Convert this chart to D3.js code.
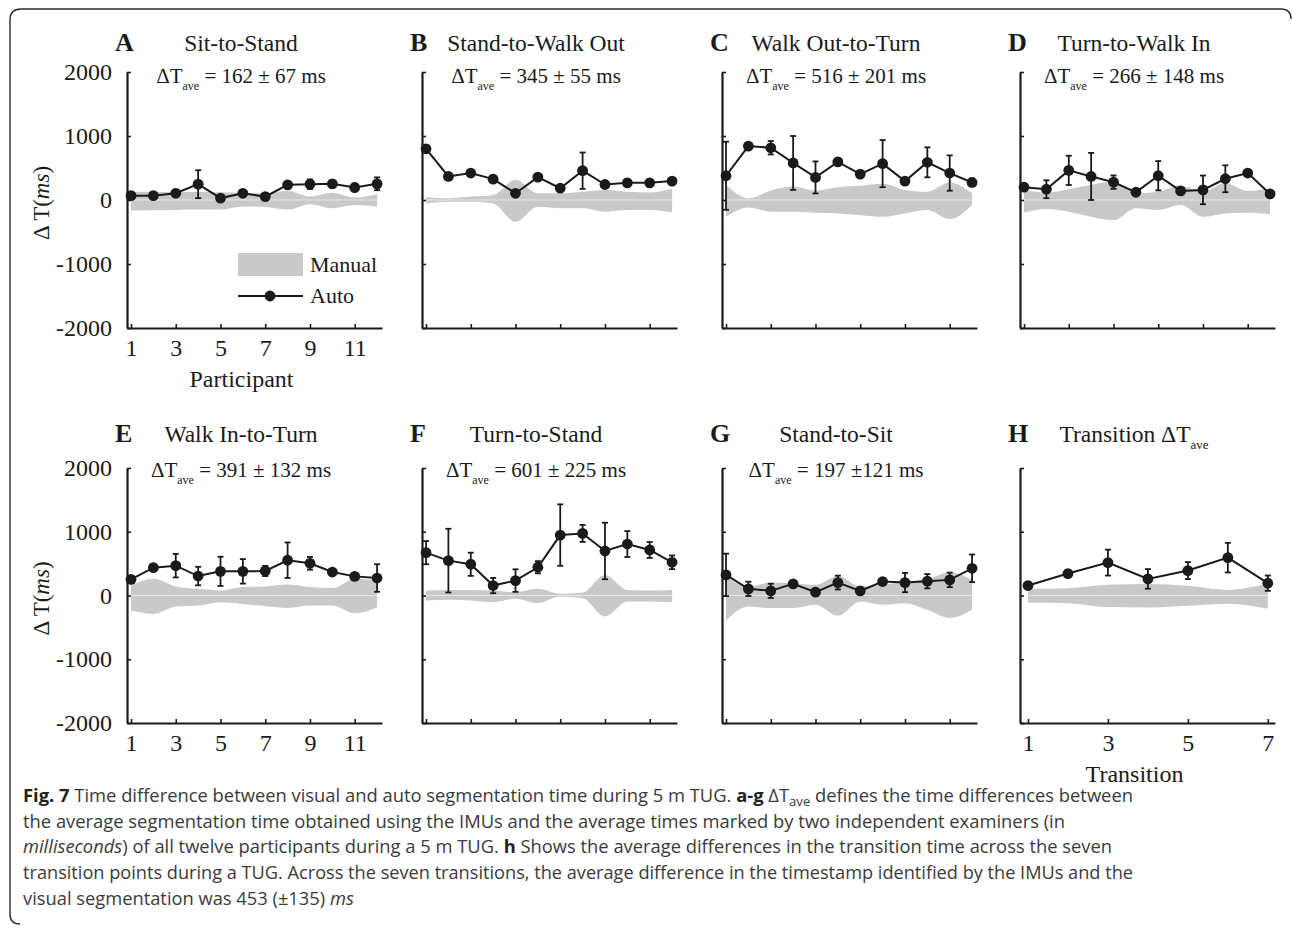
<!DOCTYPE html>
<html>
<head>
<meta charset="utf-8">
<script src="https://cdnjs.cloudflare.com/ajax/libs/d3/7.8.5/d3.min.js"></script>
<style>
  body { margin: 0; background: #fff; }
  .serif { font-family: "Liberation Serif", "Times New Roman", serif; }
  .caption { font-family: "Open Sans", "Noto Sans", sans-serif; fill: #3a3a3a; }
</style>
</head>
<body>
<div id="chart"></div>
<script>
// x categories
var participants = [1, 2, 3, 4, 5, 6, 7, 8, 9, 10, 11, 12];
var transitions = [1, 2, 3, 4, 5, 6, 7];

// Auto segmentation: mean difference (ms) and error bar half-length
var autoA = [68, 68, 105, 247, 30, 105, 53, 237, 247, 253, 195, 253];
var errA = [30, 25, 55, 218, 20, 30, 20, 40, 75, 45, 60, 100];
var autoB = [800, 368, 421, 326, 105, 358, 184, 458, 242, 268, 268, 295];
var errB = [20, 20, 25, 20, 25, 20, 20, 284, 20, 20, 20, 20];
var autoC = [379, 842, 816, 579, 353, 595, 405, 568, 295, 589, 421, 274];
var errC = [532, 25, 105, 421, 250, 20, 20, 368, 20, 234, 276, 60];
var autoD = [200, 168, 463, 368, 279, 121, 379, 142, 158, 332, 421, 95];
var errD = [25, 140, 229, 368, 105, 20, 229, 30, 224, 210, 20, 40];
var autoE = [253, 437, 468, 305, 379, 379, 384, 553, 505, 368, 300, 274];
var errE = [25, 25, 184, 145, 229, 192, 80, 279, 100, 25, 25, 216];
var autoF = [672, 547, 490, 156, 234, 443, 948, 974, 698, 807, 714, 521];
var errF = [182, 500, 182, 120, 177, 96, 482, 133, 443, 203, 125, 107];
var autoG = [323, 104, 73, 182, 52, 203, 73, 219, 203, 224, 245, 427];
var errG = [333, 112, 112, 30, 20, 109, 20, 30, 151, 112, 114, 216];
var autoH = [156, 344, 516, 260, 391, 594, 193];
var errH = [30, 30, 203, 154, 133, 232, 120];

// Manual segmentation band: upper and lower limits (ms)
var manualUpA = [130, 130, 125, 125, 120, 115, 105, 140, 55, 115, 40, 90];
var manualLoA = [-165, -160, -155, -150, -150, -100, -110, -150, -65, -130, -80, -105];
var manualUpB = [42, 26, 53, 79, 316, 105, 105, 130, 158, 130, 116, 174];
var manualLoB = [-53, -26, -26, -53, -342, -105, -130, -130, -184, -158, -158, -195];
var manualUpC = [237, 26, 147, 210, 147, 200, 221, 253, 158, 130, 274, 105];
var manualLoC = [-263, -116, -184, -184, -200, -210, -237, -263, -210, -158, -300, -79];
var manualUpD = [147, 116, 168, 237, 289, 105, 130, 221, 130, 263, 142, 184];
var manualLoD = [-200, -142, -184, -263, -316, -130, -158, -79, -263, -210, -200, -221];
var manualUpE = [158, 263, 142, 105, 79, 132, 142, 174, 132, 116, 263, 237];
var manualLoE = [-237, -290, -174, -158, -105, -132, -168, -195, -158, -158, -279, -184];
var manualUpF = [73, 88, 88, 78, 52, 104, 26, 47, 323, 88, 78, 88];
var manualLoF = [-78, -68, -78, -104, -52, -120, -16, -42, -328, -94, -94, -104];
var manualUpG = [297, 140, 203, 193, 167, 307, 140, 167, 219, 255, 365, 245];
var manualLoG = [-390, -172, -198, -198, -146, -318, -94, -146, -120, -224, -354, -224];
var manualUpH = [104, 115, 167, 182, 151, 88, 193];
var manualLoH = [-109, -120, -182, -188, -161, -130, -208];

// tick labels and texts
var yTicks = [-2000, -1000, 0, 1000, 2000];
var xTicksParticipant = [1, 3, 5, 7, 9, 11];
var xTicksTransition = [1, 3, 5, 7];
var letters = ["A", "B", "C", "D", "E", "F", "G", "H"];
var titles = ["Sit-to-Stand", "Stand-to-Walk Out", "Walk Out-to-Turn", "Turn-to-Walk In",
              "Walk In-to-Turn", "Turn-to-Stand", "Stand-to-Sit", "Transition \u0394T"];
var stats = [" = 162 \u00b1 67 ms", " = 345 \u00b1 55 ms", " = 516 \u00b1 201 ms", " = 266 \u00b1 148 ms",
             " = 391 \u00b1 132 ms", " = 601 \u00b1 225 ms", " = 197 \u00b1121 ms", null];

var panels = [
  { x: participants, auto: autoA, err: errA, up: manualUpA, lo: manualLoA },
  { x: participants, auto: autoB, err: errB, up: manualUpB, lo: manualLoB },
  { x: participants, auto: autoC, err: errC, up: manualUpC, lo: manualLoC },
  { x: participants, auto: autoD, err: errD, up: manualUpD, lo: manualLoD },
  { x: participants, auto: autoE, err: errE, up: manualUpE, lo: manualLoE },
  { x: participants, auto: autoF, err: errF, up: manualUpF, lo: manualLoF },
  { x: participants, auto: autoG, err: errG, up: manualUpG, lo: manualLoG },
  { x: transitions, auto: autoH, err: errH, up: manualUpH, lo: manualLoH }
];

var ink = "#1a1a1a";
var bandGrey = "#c9c9c9";

var svg = d3.select("#chart")
  .append("svg")
  .attr("width", 1292)
  .attr("height", 932)
  .style("background", "#fff");

// layout of the 2 x 4 grid
var colX = [127, 422, 722, 1020];
var rows = [
  { top: 72, bottom: 328, titleY: 51, statY: 83 },
  { top: 468, bottom: 723, titleY: 442, statY: 477 }
];
var plotW = 255;

panels.forEach(function(p, k) {
  var row = rows[Math.floor(k / 4)];
  var col = k % 4;
  var h = row.bottom - row.top;
  var isTransition = k === 7;
  var firstCol = col === 0;

  var g = svg.append("g")
    .attr("class", "serif")
    .attr("transform", "translate(" + colX[col] + "," + row.top + ")");

  var x = d3.scaleLinear()
    .domain(isTransition ? [0.8, 7.18] : [0.82, 12.22])
    .range([0, plotW]);
  var y = d3.scaleLinear().domain([-2000, 2000]).range([h, 0]);

  var pts = p.x.map(function(t, i) {
    return { t: t, v: p.auto[i], e: p.err[i], up: p.up[i], lo: p.lo[i] };
  });

  // manual band
  var area = d3.area()
    .x(function(d) { return x(d.t); })
    .y0(function(d) { return y(d.lo); })
    .y1(function(d) { return y(d.up); })
    .curve(d3.curveMonotoneX);
  g.append("path").datum(pts).attr("d", area).attr("fill", bandGrey);
  g.append("line")
    .attr("x1", x(p.x[0])).attr("x2", x(p.x[p.x.length - 1]))
    .attr("y1", y(0)).attr("y2", y(0))
    .attr("stroke", "#e6e6e6").attr("stroke-width", 1);

  // axes
  var leftAxis = d3.axisLeft(y)
    .tickValues(yTicks)
    .tickSizeInner(-4)
    .tickSizeOuter(0)
    .tickPadding(15)
    .tickFormat(function(d) { return firstCol ? String(d) : ""; });
  var bottomAxis = d3.axisBottom(x)
    .tickValues(isTransition ? xTicksTransition : xTicksParticipant)
    .tickSizeInner(-4)
    .tickSizeOuter(0)
    .tickPadding(11)
    .tickFormat(function(d) { return (k === 0 || k === 4 || isTransition) ? String(d) : ""; });

  [g.append("g").call(leftAxis),
   g.append("g").attr("transform", "translate(0," + h + ")").call(bottomAxis)]
    .forEach(function(ax) {
      ax.attr("font-family", null).attr("font-size", null);
      ax.select(".domain").attr("stroke", ink).attr("stroke-width", 2.2);
      ax.selectAll(".tick line").attr("stroke", ink).attr("stroke-width", 1.6);
      ax.selectAll(".tick text").attr("fill", ink).attr("font-size", 24);
    });

  // error bars
  var bars = g.append("g").selectAll("g").data(pts).enter().append("g")
    .attr("stroke", ink).attr("stroke-width", 1.8);
  bars.append("line")
    .attr("x1", function(d) { return x(d.t); }).attr("x2", function(d) { return x(d.t); })
    .attr("y1", function(d) { return y(d.v - d.e); }).attr("y2", function(d) { return y(d.v + d.e); });
  [-1, 1].forEach(function(s) {
    bars.append("line")
      .attr("x1", function(d) { return x(d.t) - 3; }).attr("x2", function(d) { return x(d.t) + 3; })
      .attr("y1", function(d) { return y(d.v + s * d.e); }).attr("y2", function(d) { return y(d.v + s * d.e); });
  });

  // auto line and markers
  var line = d3.line()
    .x(function(d) { return x(d.t); })
    .y(function(d) { return y(d.v); });
  g.append("path").datum(pts).attr("d", line)
    .attr("fill", "none").attr("stroke", ink).attr("stroke-width", 2);
  g.selectAll("circle").data(pts).enter().append("circle")
    .attr("cx", function(d) { return x(d.t); })
    .attr("cy", function(d) { return y(d.v); })
    .attr("r", 5.4)
    .attr("fill", ink);

  // panel letter, title and stat line
  svg.append("text").attr("class", "serif")
    .attr("x", colX[col] - 12).attr("y", row.titleY)
    .attr("font-size", 26).attr("font-weight", "bold").attr("fill", ink)
    .text(letters[k]);

  var title = svg.append("text").attr("class", "serif")
    .attr("x", colX[col] + 114).attr("y", row.titleY)
    .attr("text-anchor", "middle").attr("font-size", 23.5).attr("fill", ink);
  title.append("tspan").text(titles[k]);
  if (isTransition) {
    title.append("tspan").attr("font-size", 13).attr("dy", 7).text("ave");
  }

  if (stats[k]) {
    var st = svg.append("text").attr("class", "serif")
      .attr("x", colX[col] + 114).attr("y", row.statY)
      .attr("text-anchor", "middle").attr("font-size", 21).attr("fill", ink);
    st.append("tspan").text("\u0394T");
    st.append("tspan").attr("font-size", 12).attr("dy", 7).text("ave");
    st.append("tspan").attr("dy", -7).text(stats[k]);
  }

  // y axis label
  if (firstCol) {
    var yl = svg.append("text").attr("class", "serif")
      .attr("transform", "translate(49," + (row.top + y(0) + 3) + ") rotate(-90)")
      .attr("text-anchor", "middle").attr("font-size", 23).attr("fill", ink);
    yl.append("tspan").text("\u0394 T(");
    yl.append("tspan").attr("font-style", "italic").text("ms");
    yl.append("tspan").text(")");
  }

  // x axis label
  if (k === 0 || isTransition) {
    g.append("text")
      .attr("x", plotW / 2 - 13).attr("y", h + 59)
      .attr("text-anchor", "middle").attr("font-size", 24).attr("fill", ink)
      .text(isTransition ? "Transition" : "Participant");
  }

  // legend in panel A
  if (k === 0) {
    var lg = g.append("g").attr("transform", "translate(111,181)");
    lg.append("rect").attr("width", 65).attr("height", 23).attr("fill", bandGrey);
    lg.append("text").attr("x", 72).attr("y", 19).attr("font-size", 22).attr("fill", ink).text("Manual");
    lg.append("line").attr("x1", 0).attr("x2", 65).attr("y1", 43).attr("y2", 43)
      .attr("stroke", ink).attr("stroke-width", 2);
    lg.append("circle").attr("cx", 32).attr("cy", 43).attr("r", 5.4).attr("fill", ink);
    lg.append("text").attr("x", 72).attr("y", 50).attr("font-size", 22).attr("fill", ink).text("Auto");
  }
});

// figure frame
svg.append("path")
  .attr("d", "M20,924 Q10,924 10,914 L10,20 Q10,9 21,9 L1281,9 Q1291,9 1291,19")
  .attr("fill", "none").attr("stroke", "#2a2a2a").attr("stroke-width", 1.4);

// caption
var captionLines = [
  { y: 802, w: 1110, parts: [["Fig. 7", "b"], [" Time difference between visual and auto segmentation time during 5 m TUG. ", ""], ["a-g", "b"], [" \u0394T", ""], ["ave", "sub"], [" defines the time differences between", "up"]] },
  { y: 828, w: 1042, parts: [["the average segmentation time obtained using the IMUs and the average times marked by two independent examiners (in", ""]] },
  { y: 853, w: 1089, parts: [["milliseconds", "i"], [") of all twelve participants during a 5 m TUG. ", ""], ["h", "b"], [" Shows the average differences in the transition time across the seven", ""]] },
  { y: 879, w: 1110, parts: [["transition points during a TUG. Across the seven transitions, the average difference in the timestamp identified by the IMUs and the", ""]] },
  { y: 905, w: null, parts: [["visual segmentation was 453 (\u00b1135) ", ""], ["ms", "i"]] }
];

var ratios = [];
var lastLine = null;
captionLines.forEach(function(ln) {
  var t = svg.append("text").attr("class", "caption")
    .attr("x", 23).attr("y", ln.y).attr("font-size", 17.5);
  ln.parts.forEach(function(pt) {
    var s = t.append("tspan").text(pt[0]);
    if (pt[1] === "b") s.attr("font-weight", "bold").attr("fill", "#222");
    if (pt[1] === "i") s.attr("font-style", "italic");
    if (pt[1] === "sub") s.attr("font-size", 12.5).attr("dy", 4);
    if (pt[1] === "up") s.attr("dy", -4);
  });
  var natural = t.node().getComputedTextLength();
  if (ln.w) {
    ratios.push(ln.w / natural);
    t.attr("textLength", ln.w).attr("lengthAdjust", "spacingAndGlyphs");
  } else {
    lastLine = { el: t, natural: natural };
  }
});
// last line: same squeeze as the full lines above
if (lastLine) {
  lastLine.el.attr("textLength", lastLine.natural * d3.mean(ratios))
    .attr("lengthAdjust", "spacingAndGlyphs");
}
</script>
</body>
</html>
